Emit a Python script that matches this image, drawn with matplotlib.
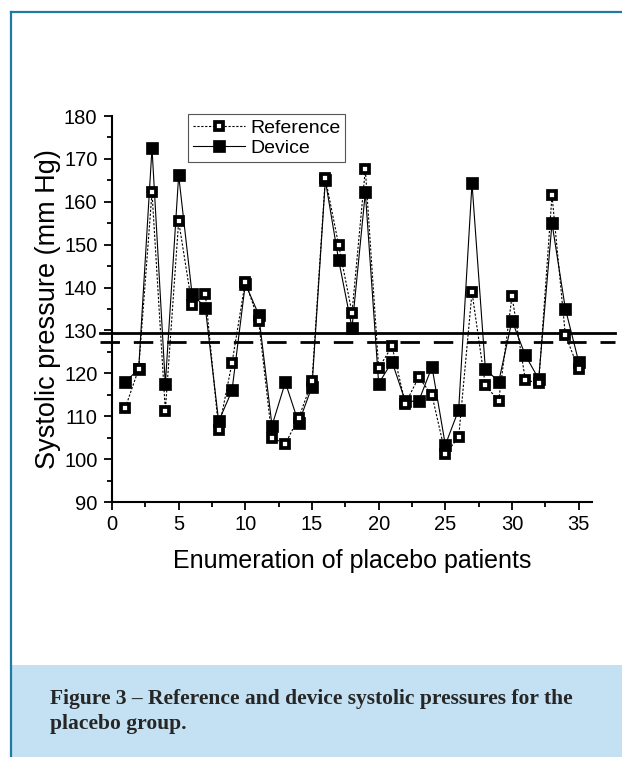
import matplotlib.pyplot as plt
from matplotlib.patches import Rectangle
from matplotlib.lines import Line2D

patients = list(range(1, 36))
reference = [112.0, 121.0, 162.2, 111.3, 155.5, 135.9, 138.6, 106.8, 122.4, 141.4,
             132.2, 104.9, 103.6, 109.6, 118.1, 165.5, 149.9, 134.1, 167.6, 121.2,
             126.3, 112.9, 119.1, 114.9, 101.2, 105.1, 138.9, 117.2, 113.6, 138.0,
             118.5, 117.7, 161.5, 129.0, 120.9]
device = [118.0, 121.0, 172.5, 117.4, 166.2, 138.6, 135.3, 108.8, 116.0, 140.9,
          133.7, 107.8, 117.9, 108.4, 116.9, 165.0, 146.4, 130.6, 162.2, 117.6,
          122.7, 113.5, 113.5, 121.5, 103.3, 111.5, 164.3, 121.1, 118.0, 132.3,
          124.2, 118.7, 155.0, 135.1, 122.7]
solid_level = 129.5
dashed_level = 127.2

plt.rcParams['font.family'] = ['Liberation Sans', 'DejaVu Sans']

fig = plt.figure(figsize=(6.22, 7.57), dpi=100)

# page frame and caption box
frame_blue = '#1f7ba6'
fig.add_artist(Line2D([11 / 622, 11 / 622], [0, 1 - 12 / 757], color=frame_blue, lw=1.6))
fig.add_artist(Line2D([11 / 622, 1], [1 - 12 / 757, 1 - 12 / 757], color=frame_blue, lw=1.6))
fig.add_artist(Rectangle((12 / 622, 0), 1, 92 / 757, facecolor='#c3e1f2',
                         edgecolor='none', transform=fig.transFigure))
fig.text(50 / 622, 1 - 729 / 757,
         'Figure 3 \u2013 Reference and device systolic pressures for the\nplacebo group.',
         family='Liberation Serif', fontweight='bold', fontsize=15.5, color='#262626',
         va='baseline', linespacing=1.35)

ax = fig.add_axes([112 / 622, 1 - 502 / 757, (592 - 112) / 622, (502 - 116) / 757])

ax.plot(patients, reference, linestyle=(0, (2, 1.5)), color='black', lw=0.8,
        marker='s', markersize=5.4, markerfacecolor='white', markeredgecolor='black',
        markeredgewidth=2.7, label='Reference', zorder=3)
ax.plot(patients, device, linestyle='-', color='black', lw=0.8,
        marker='s', markersize=8.2, markerfacecolor='black', markeredgecolor='black',
        markeredgewidth=0.5, label='Device', zorder=2)

ax.plot([-0.9, 37.7], [solid_level, solid_level], color='black', lw=2, clip_on=False)
ax.plot([-0.9, 37.7], [dashed_level, dashed_level], color='black', lw=2,
        linestyle=(0, (7, 5)), clip_on=False)

ax.set_xlim(0, 36)
ax.set_ylim(90, 180)
ax.set_xticks([0, 5, 10, 15, 20, 25, 30, 35])
ax.set_xticks([2.5, 7.5, 12.5, 17.5, 22.5, 27.5, 32.5], minor=True)
ax.set_yticks(range(90, 181, 10))
ax.set_yticks(range(95, 180, 10), minor=True)
ax.tick_params(which='both', direction='out', width=1.3, labelsize=14.5)
ax.tick_params(which='major', length=6)
ax.tick_params(which='minor', length=3.5)
ax.tick_params(axis='x', pad=3)
ax.tick_params(axis='y', pad=4.5)
for side in ['top', 'right']:
    ax.spines[side].set_visible(False)
for side in ['left', 'bottom']:
    ax.spines[side].set_linewidth(1.5)

ax.set_xlabel('Enumeration of placebo patients', fontsize=18, labelpad=11)
ax.set_ylabel('Systolic pressure (mm Hg)', fontsize=19.5, labelpad=2)

leg = ax.legend(loc='upper left', bbox_to_anchor=(0.158, 1.005), fontsize=14,
                fancybox=False, framealpha=1, edgecolor='#555555',
                handlelength=2.7, handletextpad=0.25, borderpad=0.25, labelspacing=0.15,
                borderaxespad=0)
leg.get_frame().set_linewidth(0.8)

fig.savefig('out.png', dpi=100)
